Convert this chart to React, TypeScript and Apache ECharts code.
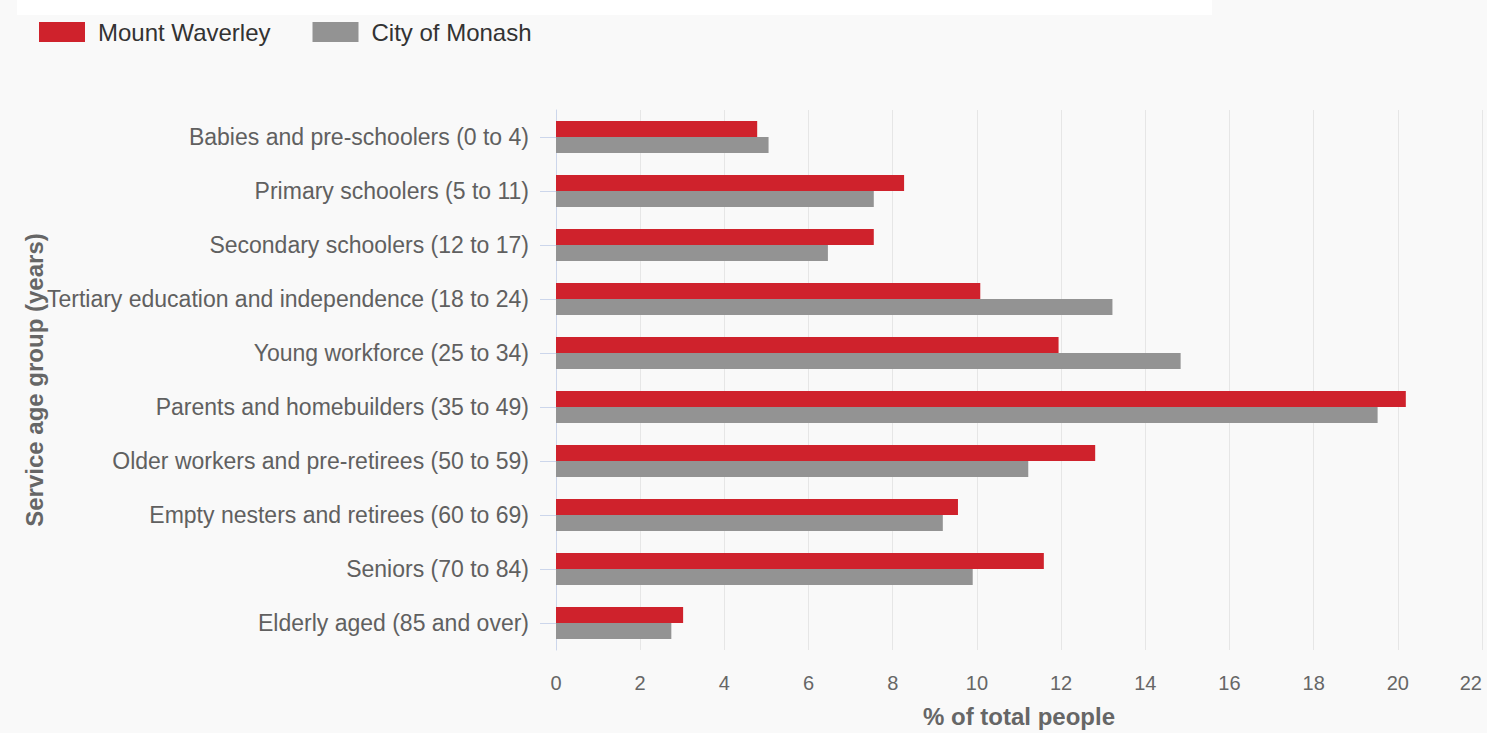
import React, { useEffect, useRef } from "react";
import * as echarts from "echarts";

const categories = [
  "Babies and pre-schoolers (0 to 4)",
  "Primary schoolers (5 to 11)",
  "Secondary schoolers (12 to 17)",
  "Tertiary education and independence (18 to 24)",
  "Young workforce (25 to 34)",
  "Parents and homebuilders (35 to 49)",
  "Older workers and pre-retirees (50 to 59)",
  "Empty nesters and retirees (60 to 69)",
  "Seniors (70 to 84)",
  "Elderly aged (85 and over)",
];

const mountWaverley = [4.78, 8.27, 7.55, 10.08, 11.94, 20.19, 12.81, 9.55, 11.59, 3.02];
const cityOfMonash = [5.05, 7.55, 6.46, 13.22, 14.84, 19.52, 11.22, 9.19, 9.9, 2.74];

const seriesNames = ["Mount Waverley", "City of Monash"];
const xAxisTitle = "% of total people";
const yAxisTitle = "Service age group (years)";

const FONT = "'Liberation Sans', Arial, Helvetica, sans-serif";

export default function App() {
  const ref = useRef<HTMLDivElement>(null);
  useEffect(() => {
    if (!ref.current) return;
    const chart = echarts.init(ref.current, undefined, { renderer: "svg" });
    chart.setOption({
      animation: false,
      backgroundColor: "#f9f9f9",
      textStyle: { fontFamily: FONT },
      graphic: [
        {
          type: "rect",
          shape: { x: 17, y: 0, width: 1195, height: 15 },
          style: { fill: "#ffffff" },
          silent: true,
        },
      ],
      legend: {
        left: 34,
        top: 15,
        itemWidth: 46,
        itemHeight: 20,
        itemGap: 42,
        icon: "rect",
        textStyle: { fontSize: 24, color: "#333333", fontFamily: FONT, padding: [0, 0, 0, 8] },
        data: seriesNames,
      },
      grid: { left: 556, right: 5, top: 110, bottom: 72, containLabel: false },
      xAxis: {
        type: "value",
        min: 0,
        max: 22,
        interval: 2,
        name: xAxisTitle,
        nameLocation: "middle",
        nameGap: 54,
        nameMoveOverlap: false,
        nameTextStyle: { fontSize: 24, fontWeight: "bold", color: "#666666", fontFamily: FONT },
        axisLine: { show: false },
        axisTick: { show: false },
        axisLabel: { fontSize: 20, color: "#666666", margin: 23, alignMaxLabel: "right", fontFamily: FONT },
        splitLine: { show: true, lineStyle: { color: "#e6e6e6", width: 1 } },
      },
      yAxis: {
        type: "category",
        inverse: true,
        data: categories,
        name: yAxisTitle,
        nameLocation: "middle",
        nameGap: 510,
        nameMoveOverlap: false,
        nameTextStyle: { fontSize: 24, fontWeight: "bold", color: "#666666", fontFamily: FONT },
        axisLine: { show: true, lineStyle: { color: "#ccd6eb" } },
        axisTick: { show: true, alignWithLabel: true, length: 16, lineStyle: { color: "#ccd6eb" } },
        axisLabel: { fontSize: 23, color: "#606060", margin: 27, fontFamily: FONT },
        splitLine: { show: false },
      },
      series: [
        {
          name: seriesNames[0],
          type: "bar",
          data: mountWaverley,
          barWidth: 16,
          barGap: "0%",
          itemStyle: { color: "#cf222c" },
        },
        {
          name: seriesNames[1],
          type: "bar",
          data: cityOfMonash,
          barWidth: 16,
          barGap: "0%",
          itemStyle: { color: "#939393" },
        },
      ],
    });
    return () => chart.dispose();
  }, []);
  return (
    <div
      ref={ref}
      style={{ position: "fixed", left: 0, top: 0, width: 1487, height: 733 }}
    />
  );
}
